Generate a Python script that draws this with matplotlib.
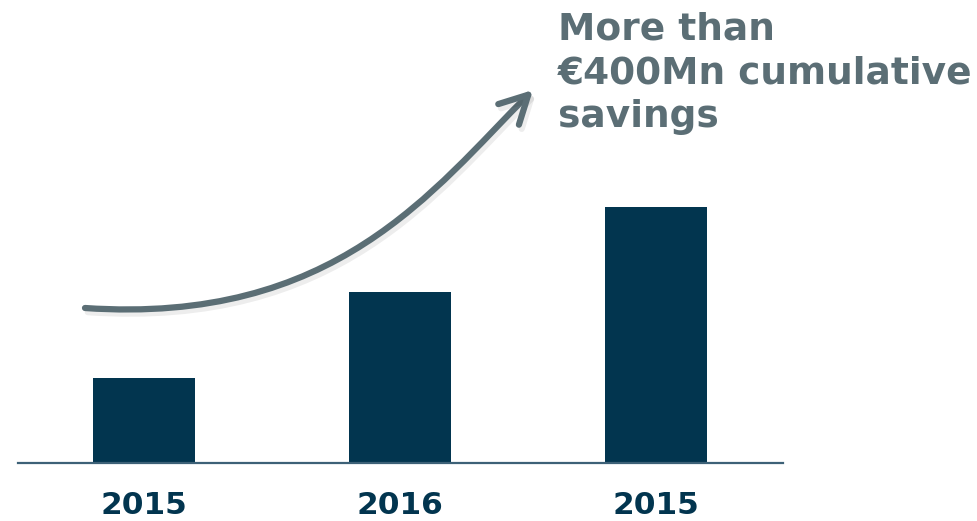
import matplotlib
matplotlib.use("Agg")
import matplotlib.pyplot as plt
from matplotlib.path import Path
from matplotlib.patches import FancyArrowPatch
import matplotlib.patheffects as pe

categories = ["2015", "2016", "2015"]
values = [1, 2, 3]
callout_lines = ["More than", "€400Mn cumulative", "savings"]

BAR = "#02354f"
GREY = "#5b6e75"
AXIS = "#3d6177"

W, H = 978, 521
fig = plt.figure(figsize=(W / 100, H / 100), dpi=100)
fig.patch.set_facecolor("white")

left, right = 18 / W, 783 / W
bottom = (H - 463) / H
height = 256 / H
ax = fig.add_axes([left, bottom, right - left, height])

x = list(range(len(categories)))
ax.bar(x, values, width=0.4, color=BAR, zorder=2)
ax.set_xlim(-0.492, 2.496)
ax.set_ylim(0, 3)
ax.set_xticks(x)
ax.set_xticklabels(categories, fontsize=22.5, fontweight="bold", color=BAR,
                   family="DejaVu Sans")
ax.tick_params(axis="x", length=0, pad=20)
ax.set_yticks([])
for s in ["top", "left", "right"]:
    ax.spines[s].set_visible(False)
ax.spines["bottom"].set_color(AXIS)
ax.spines["bottom"].set_linewidth(1.6)
ax.set_facecolor("none")

# curved arrow annotation (figure pixel coordinates, y from top)
pts = [(85, 308), (335, 325), (433, 190), (533, 90)]
verts = [(px / W, (H - py) / H) for px, py in pts]
path = Path(verts, [Path.MOVETO, Path.CURVE4, Path.CURVE4, Path.CURVE4])
arrow = FancyArrowPatch(path=path, arrowstyle="->,head_length=2.0,head_width=1.05",
                        mutation_scale=10, lw=4.5, color=GREY,
                        capstyle="round", joinstyle="round",
                        transform=fig.transFigure, zorder=3)
arrow.set_path_effects([pe.SimpleLineShadow(offset=(2, -3), alpha=0.07, shadow_color="black"),
                        pe.Normal()])
fig.add_artist(arrow)

baselines = [39, 83, 127]
for line, by in zip(callout_lines, baselines):
    fig.text(558 / W, (H - by) / H, line, ha="left", va="baseline",
             fontsize=27, fontweight="bold", color=GREY, family="DejaVu Sans")

fig.savefig("out.png", dpi=100, facecolor="white")
